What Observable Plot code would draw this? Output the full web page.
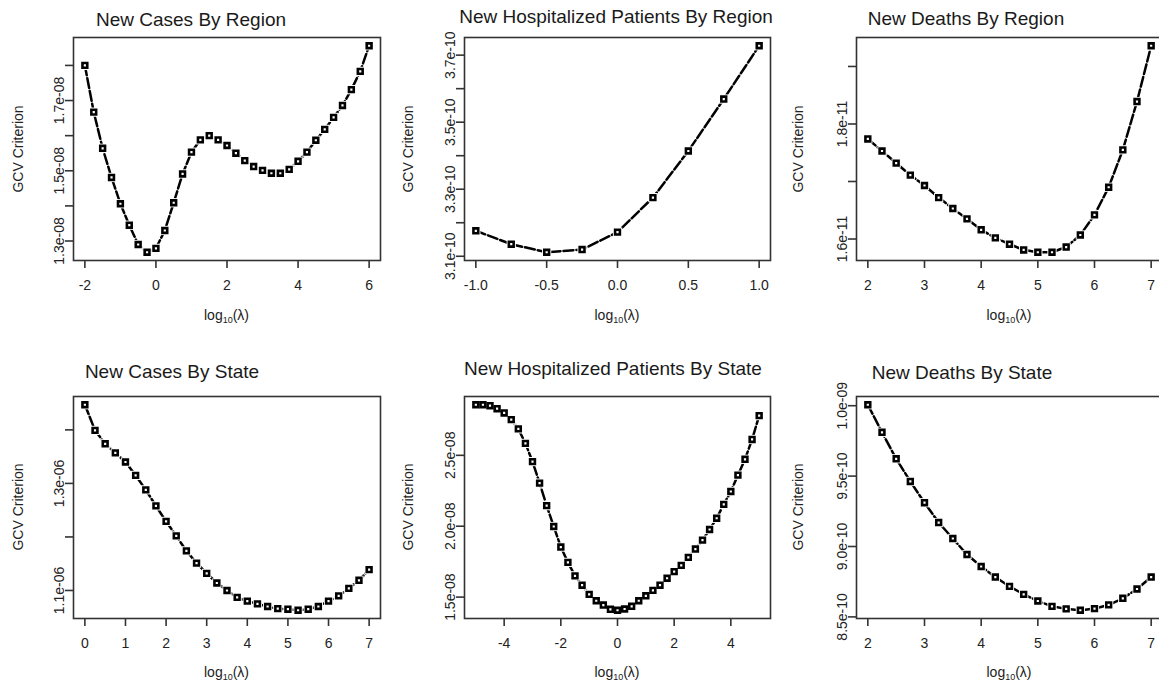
<!DOCTYPE html>
<html><head><meta charset="utf-8">
<script src="https://cdn.jsdelivr.net/npm/d3@7"></script>
<script src="https://cdn.jsdelivr.net/npm/@observablehq/plot@0.6"></script>
<style>
html,body{margin:0;padding:0;background:#fff;}
#wrap{position:relative;width:1159px;height:685px;overflow:hidden;background:#fff;font-family:"Liberation Sans",Arial,sans-serif;color:#222;}
.pnl{position:absolute;}
.pnl svg{max-width:none !important;display:block;}
.ttl{position:absolute;font-size:19px;line-height:19px;white-space:nowrap;transform:translateX(-50%);color:#1a1a1a;}
.xl{position:absolute;font-size:14px;line-height:14px;white-space:nowrap;transform:translateX(-50%);}
.xl sub{font-size:9px;vertical-align:-3px;line-height:0;}
.yl{position:absolute;font-size:14px;line-height:14px;white-space:nowrap;transform:translate(-50%,-50%) rotate(-90deg);}
</style></head><body><div id="wrap"></div>
<script>
// ---- data: log10(lambda) grids and GCV criterion values ----
const casesRegionLambda = [-2,-1.75,-1.5,-1.25,-1,-0.75,-0.5,-0.25,0,0.25,0.5,0.75,1,1.25,1.5,1.75,2,2.25,2.5,2.75,3,3.25,3.5,3.75,4,4.25,4.5,4.75,5,5.25,5.5,5.75,6];
const casesRegionGCV = [1.800e-8,1.667e-8,1.564e-8,1.481e-8,1.406e-8,1.345e-8,1.290e-8,1.268e-8,1.279e-8,1.330e-8,1.409e-8,1.491e-8,1.553e-8,1.588e-8,1.600e-8,1.588e-8,1.572e-8,1.550e-8,1.529e-8,1.512e-8,1.501e-8,1.493e-8,1.493e-8,1.504e-8,1.527e-8,1.553e-8,1.587e-8,1.618e-8,1.652e-8,1.686e-8,1.731e-8,1.783e-8,1.856e-8];

const hospRegionLambda = [-1,-0.75,-0.5,-0.25,0,0.25,0.5,0.75,1];
const hospRegionGCV = [3.176e-10,3.136e-10,3.112e-10,3.120e-10,3.172e-10,3.275e-10,3.414e-10,3.569e-10,3.728e-10];

const deathsRegionLambda = [2,2.25,2.5,2.75,3,3.25,3.5,3.75,4,4.25,4.5,4.75,5,5.25,5.5,5.75,6,6.25,6.5,6.75,7];
const deathsRegionGCV = [1.774e-11,1.753e-11,1.732e-11,1.711e-11,1.693e-11,1.672e-11,1.653e-11,1.635e-11,1.616e-11,1.602e-11,1.591e-11,1.581e-11,1.577e-11,1.577e-11,1.586e-11,1.607e-11,1.642e-11,1.690e-11,1.755e-11,1.839e-11,1.936e-11];

const casesStateLambda = [0,0.25,0.5,0.75,1,1.25,1.5,1.75,2,2.25,2.5,2.75,3,3.25,3.5,3.75,4,4.25,4.5,4.75,5,5.25,5.5,5.75,6,6.25,6.5,6.75,7];
const casesStateGCV = [1.447e-6,1.399e-6,1.374e-6,1.357e-6,1.340e-6,1.315e-6,1.288e-6,1.258e-6,1.229e-6,1.202e-6,1.174e-6,1.151e-6,1.132e-6,1.114e-6,1.100e-6,1.087e-6,1.080e-6,1.075e-6,1.070e-6,1.066e-6,1.065e-6,1.063e-6,1.065e-6,1.070e-6,1.080e-6,1.090e-6,1.104e-6,1.119e-6,1.139e-6];

const hospStateLambda = [-5,-4.75,-4.5,-4.25,-4,-3.75,-3.5,-3.25,-3,-2.75,-2.5,-2.25,-2,-1.75,-1.5,-1.25,-1,-0.75,-0.5,-0.25,0,0.25,0.5,0.75,1,1.25,1.5,1.75,2,2.25,2.5,2.75,3,3.25,3.5,3.75,4,4.25,4.5,4.75,5];
const hospStateGCV = [2.857e-8,2.857e-8,2.850e-8,2.829e-8,2.799e-8,2.752e-8,2.687e-8,2.584e-8,2.456e-8,2.304e-8,2.145e-8,1.998e-8,1.853e-8,1.745e-8,1.650e-8,1.584e-8,1.519e-8,1.474e-8,1.444e-8,1.414e-8,1.407e-8,1.416e-8,1.435e-8,1.474e-8,1.509e-8,1.547e-8,1.584e-8,1.633e-8,1.680e-8,1.724e-8,1.780e-8,1.839e-8,1.902e-8,1.977e-8,2.056e-8,2.154e-8,2.245e-8,2.360e-8,2.472e-8,2.612e-8,2.780e-8];

const deathsStateLambda = [2,2.25,2.5,2.75,3,3.25,3.5,3.75,4,4.25,4.5,4.75,5,5.25,5.5,5.75,6,6.25,6.5,6.75,7];
const deathsStateGCV = [1.0007e-9,9.811e-10,9.623e-10,9.462e-10,9.311e-10,9.170e-10,9.057e-10,8.943e-10,8.858e-10,8.783e-10,8.717e-10,8.660e-10,8.613e-10,8.575e-10,8.557e-10,8.547e-10,8.559e-10,8.585e-10,8.632e-10,8.698e-10,8.783e-10];

// ---- tick values and labels ----
const xTicksCasesRegion = [-2,0,2,4,6], xLabelsCasesRegion = ["-2","0","2","4","6"];
const yTicksCasesRegion = [1.3e-8,1.4e-8,1.5e-8,1.6e-8,1.7e-8,1.8e-8], yLabelsCasesRegion = ["1.3e-08","","1.5e-08","","1.7e-08",""];
const xTicksHospRegion = [-1,-0.5,0,0.5,1], xLabelsHospRegion = ["-1.0","-0.5","0.0","0.5","1.0"];
const yTicksHospRegion = [3.1e-10,3.2e-10,3.3e-10,3.4e-10,3.5e-10,3.6e-10,3.7e-10], yLabelsHospRegion = ["3.1e-10","","3.3e-10","","3.5e-10","","3.7e-10"];
const xTicksDeathsRegion = [2,3,4,5,6,7], xLabelsDeathsRegion = ["2","3","4","5","6","7"];
const yTicksDeathsRegion = [1.6e-11,1.7e-11,1.8e-11,1.9e-11], yLabelsDeathsRegion = ["1.6e-11","","1.8e-11",""];
const xTicksCasesState = [0,1,2,3,4,5,6,7], xLabelsCasesState = ["0","1","2","3","4","5","6","7"];
const yTicksCasesState = [1.1e-6,1.2e-6,1.3e-6,1.4e-6], yLabelsCasesState = ["1.1e-06","","1.3e-06",""];
const xTicksHospState = [-4,-2,0,2,4], xLabelsHospState = ["-4","-2","0","2","4"];
const yTicksHospState = [1.5e-8,2.0e-8,2.5e-8], yLabelsHospState = ["1.5e-08","2.0e-08","2.5e-08"];
const xTicksDeathsState = [2,3,4,5,6,7], xLabelsDeathsState = ["2","3","4","5","6","7"];
const yTicksDeathsState = [8.5e-10,9.0e-10,9.5e-10,1.0e-9], yLabelsDeathsState = ["8.5e-10","9.0e-10","9.5e-10","1.0e-09"];

const titles = ["New Cases By Region","New Hospitalized Patients By Region","New Deaths By Region","New Cases By State","New Hospitalized Patients By State","New Deaths By State"];
const yAxisLabel = "GCV Criterion";

const panels = [
  {title:titles[0], col:0,row:0, tx:191, ty:10, x:casesRegionLambda, y:casesRegionGCV, xt:xTicksCasesRegion, xtl:xLabelsCasesRegion, yt:yTicksCasesRegion, ytl:yLabelsCasesRegion},
  {title:titles[1], col:1,row:0, tx:616, ty:7, x:hospRegionLambda, y:hospRegionGCV, xt:xTicksHospRegion, xtl:xLabelsHospRegion, yt:yTicksHospRegion, ytl:yLabelsHospRegion},
  {title:titles[2], col:2,row:0, tx:966, ty:9, x:deathsRegionLambda, y:deathsRegionGCV, xt:xTicksDeathsRegion, xtl:xLabelsDeathsRegion, yt:yTicksDeathsRegion, ytl:yLabelsDeathsRegion},
  {title:titles[3], col:0,row:1, tx:172, ty:362, x:casesStateLambda, y:casesStateGCV, xt:xTicksCasesState, xtl:xLabelsCasesState, yt:yTicksCasesState, ytl:yLabelsCasesState},
  {title:titles[4], col:1,row:1, tx:613, ty:359, x:hospStateLambda, y:hospStateGCV, xt:xTicksHospState, xtl:xLabelsHospState, yt:yTicksHospState, ytl:yLabelsHospState},
  {title:titles[5], col:2,row:1, tx:962, ty:363, x:deathsStateLambda, y:deathsStateGCV, xt:xTicksDeathsState, xtl:xLabelsDeathsState, yt:yTicksDeathsState, ytl:yLabelsDeathsState}
];

// ---- layout ----
const colBox = [[73,380],[464,770],[856,1162]];
const rowBox = [[37,260],[396,618]];
const ylabX = [18,408,798];
const xlabTop = [308,665];

const wrap = document.getElementById("wrap");
function pad(a){const [lo,hi]=d3.extent(a);const r=hi-lo;return [lo-0.04*r,hi+0.04*r];}

panels.forEach(p=>{
  const [bl,br]=colBox[p.col]; const [bt,bb]=rowBox[p.row];
  const mL=80,mR=12,mT=37,mB=45;
  const w=br-bl+mL+mR, h=bb-bt+mT+mB;
  const data=p.x.map((x,i)=>({x,y:p.y[i]}));
  const xl=new Map(p.xt.map((t,i)=>[t,p.xtl[i]]));
  const yl=new Map(p.yt.map((t,i)=>[t,p.ytl[i]]));
  const svg=Plot.plot({
    width:w,height:h,marginLeft:mL,marginRight:mR,marginTop:mT,marginBottom:mB,
    style:{fontFamily:"Liberation Sans, Arial, sans-serif",fontSize:"14px",background:"transparent",overflow:"visible"},
    x:{domain:pad(p.x)}, y:{domain:pad(p.y)},
    marks:[
      Plot.line(data,{x:"x",y:"y",stroke:"#000",strokeWidth:2.5,strokeDasharray:"10,3"}),
      Plot.dot(data,{x:"x",y:"y",symbol:"square",r:5.2,fill:"#fff",stroke:"none"}),
      Plot.dot(data,{x:"x",y:"y",symbol:"square",r:2.7,fill:"#fff",stroke:"#000",strokeWidth:2.6}),
      Plot.frame({stroke:"#333",strokeWidth:1.6}),
      Plot.axisX(p.xt,{tickSize:8,tickPadding:12,tickFormat:d=>xl.get(d),stroke:"#333",strokeWidth:1.6,fill:"#222",fontSize:14,label:null}),
      Plot.axisY(p.yt,{tickSize:8,tickPadding:2,tickRotate:-90,tickFormat:d=>yl.get(d),stroke:"#333",strokeWidth:1.6,fill:"#222",fontSize:14,label:null})
    ]
  });
  const div=document.createElement("div");
  div.className="pnl";
  div.style.left=(bl-mL)+"px"; div.style.top=(bt-mT)+"px"; div.style.width=w+"px"; div.style.height=h+"px";
  div.appendChild(svg);
  wrap.appendChild(div);

  const t=document.createElement("div");
  t.className="ttl"; t.textContent=p.title;
  t.style.left=p.tx+"px"; t.style.top=p.ty+"px";
  wrap.appendChild(t);

  const xlab=document.createElement("div");
  xlab.className="xl";
  xlab.innerHTML="log<sub>10</sub>(λ)";
  xlab.style.left=((bl+br)/2)+"px"; xlab.style.top=xlabTop[p.row]+"px";
  wrap.appendChild(xlab);

  const ylab=document.createElement("div");
  ylab.className="yl"; ylab.textContent=yAxisLabel;
  ylab.style.left=ylabX[p.col]+"px"; ylab.style.top=((bt+bb)/2)+"px";
  wrap.appendChild(ylab);
});
</script></body></html>
